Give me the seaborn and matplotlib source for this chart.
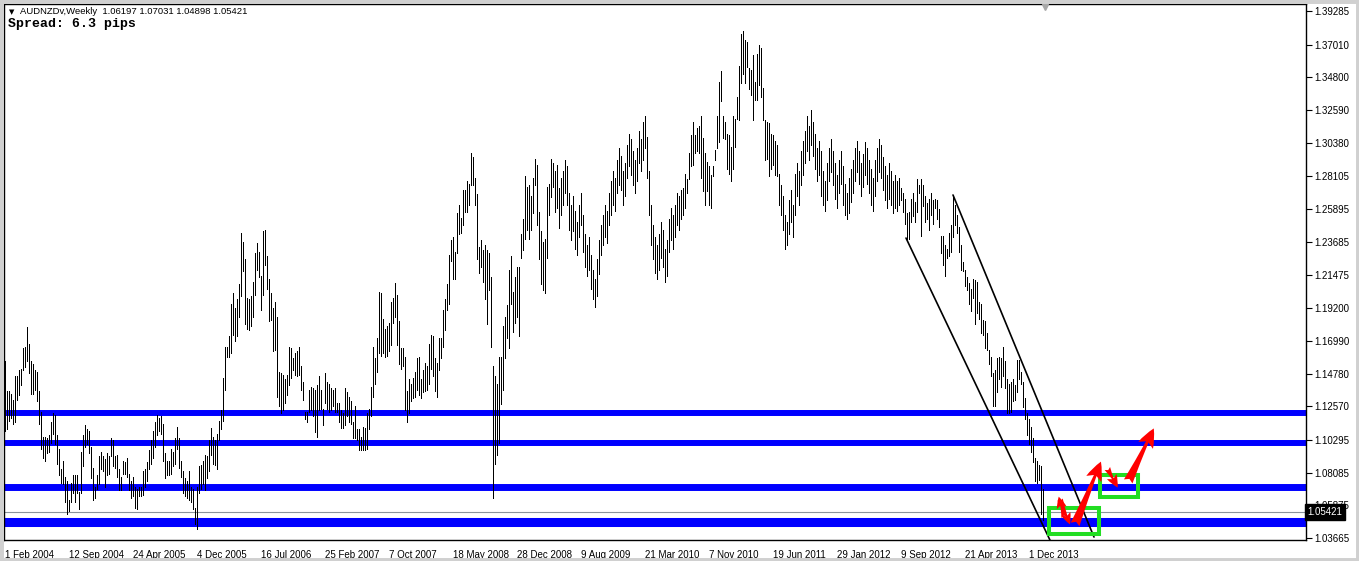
import numpy as np
import pandas as pd
import seaborn as sns
import matplotlib.pyplot as plt
from matplotlib.patches import Rectangle, FancyArrowPatch
import matplotlib.transforms as mtransforms

# weekly AUDNZD bars, Feb 2004 .. Jan 2014 (high / low per week)
bar_high = [
    1.156, 1.136, 1.136, 1.134, 1.130, 1.146, 1.146, 1.150, 1.151, 1.165,
    1.166, 1.179, 1.168, 1.156, 1.154, 1.150, 1.149, 1.136, 1.122, 1.105,
    1.105, 1.104, 1.106, 1.115, 1.121, 1.120, 1.106, 1.097, 1.083, 1.089,
    1.078, 1.075, 1.062, 1.074, 1.079, 1.079, 1.079, 1.068, 1.095, 1.106,
    1.113, 1.110, 1.109, 1.098, 1.084, 1.071, 1.079, 1.092, 1.095, 1.092,
    1.090, 1.094, 1.092, 1.104, 1.103, 1.092, 1.093, 1.083, 1.078, 1.089,
    1.088, 1.091, 1.080, 1.075, 1.078, 1.071, 1.070, 1.071, 1.071, 1.082,
    1.083, 1.088, 1.096, 1.103, 1.109, 1.115, 1.120, 1.118, 1.119, 1.114,
    1.094, 1.089, 1.089, 1.097, 1.095, 1.104, 1.112, 1.104, 1.089, 1.082,
    1.077, 1.075, 1.082, 1.071, 1.070, 1.057, 1.071, 1.085, 1.086, 1.089,
    1.093, 1.092, 1.103, 1.111, 1.105, 1.103, 1.107, 1.116, 1.123, 1.145,
    1.166, 1.166, 1.173, 1.195, 1.202, 1.192, 1.198, 1.208, 1.243, 1.237,
    1.225, 1.199, 1.198, 1.200, 1.210, 1.229, 1.236, 1.230, 1.214, 1.244,
    1.245, 1.227, 1.212, 1.202, 1.192, 1.196, 1.186, 1.149, 1.148, 1.147,
    1.144, 1.147, 1.166, 1.165, 1.158, 1.162, 1.163, 1.166, 1.153, 1.142,
    1.122, 1.122, 1.137, 1.139, 1.138, 1.137, 1.140, 1.146, 1.137, 1.124,
    1.148, 1.142, 1.141, 1.138, 1.137, 1.138, 1.128, 1.128, 1.123, 1.121,
    1.138, 1.135, 1.132, 1.129, 1.115, 1.126, 1.110, 1.110, 1.105, 1.112,
    1.111, 1.121, 1.124, 1.139, 1.166, 1.158, 1.172, 1.203, 1.202, 1.185,
    1.178, 1.180, 1.182, 1.196, 1.199, 1.209, 1.201, 1.183, 1.165, 1.165,
    1.159, 1.136, 1.144, 1.141, 1.145, 1.149, 1.158, 1.159, 1.144, 1.150,
    1.155, 1.153, 1.168, 1.174, 1.173, 1.158, 1.155, 1.172, 1.172, 1.191,
    1.198, 1.208, 1.228, 1.238, 1.240, 1.230, 1.256, 1.262, 1.253, 1.272,
    1.272, 1.278, 1.276, 1.297, 1.294, 1.280, 1.269, 1.233, 1.238, 1.231,
    1.235, 1.231, 1.229, 1.213, 1.153, 1.146, 1.141, 1.159, 1.159, 1.180,
    1.186, 1.194, 1.218, 1.227, 1.203, 1.213, 1.220, 1.220, 1.242, 1.252,
    1.281, 1.274, 1.275, 1.268, 1.280, 1.293, 1.289, 1.257, 1.244, 1.237,
    1.239, 1.274, 1.276, 1.293, 1.290, 1.285, 1.289, 1.273, 1.280, 1.285,
    1.292, 1.288, 1.270, 1.262, 1.268, 1.258, 1.250, 1.262, 1.270, 1.255,
    1.242, 1.235, 1.240, 1.228, 1.218, 1.212, 1.225, 1.238, 1.248, 1.255,
    1.262, 1.258, 1.270, 1.278, 1.285, 1.280, 1.292, 1.300, 1.295, 1.285,
    1.290, 1.302, 1.310, 1.306, 1.298, 1.292, 1.300, 1.312, 1.306, 1.318,
    1.322, 1.308, 1.285, 1.262, 1.248, 1.240, 1.235, 1.242, 1.250, 1.245,
    1.232, 1.238, 1.252, 1.260, 1.255, 1.262, 1.270, 1.268, 1.272, 1.273,
    1.283, 1.279, 1.297, 1.309, 1.318, 1.309, 1.314, 1.315, 1.322, 1.307,
    1.297, 1.291, 1.288, 1.282, 1.288, 1.299, 1.322, 1.345, 1.352, 1.322,
    1.318, 1.310, 1.309, 1.301, 1.322, 1.320, 1.335, 1.356, 1.377, 1.379,
    1.373, 1.372, 1.354, 1.353, 1.363, 1.345, 1.364, 1.370, 1.368, 1.341,
    1.319, 1.318, 1.317, 1.310, 1.309, 1.305, 1.302, 1.283, 1.275, 1.268,
    1.255, 1.250, 1.265, 1.272, 1.262, 1.283, 1.290, 1.285, 1.298, 1.305,
    1.312, 1.322, 1.315, 1.326, 1.318, 1.310, 1.300, 1.305, 1.298, 1.285,
    1.278, 1.290, 1.300, 1.306, 1.298, 1.290, 1.282, 1.292, 1.298, 1.288,
    1.276, 1.270, 1.280, 1.286, 1.292, 1.300, 1.305, 1.298, 1.290, 1.296,
    1.304, 1.300, 1.292, 1.286, 1.280, 1.292, 1.300, 1.306, 1.302, 1.294,
    1.288, 1.282, 1.290, 1.285, 1.278, 1.282, 1.278, 1.280, 1.273, 1.270,
    1.266, 1.256, 1.257, 1.266, 1.270, 1.264, 1.279, 1.275, 1.279, 1.275,
    1.268, 1.263, 1.266, 1.270, 1.265, 1.266, 1.265, 1.259, 1.241, 1.241,
    1.235, 1.232, 1.243, 1.248, 1.268, 1.262, 1.255, 1.247, 1.235, 1.223,
    1.218, 1.213, 1.209, 1.205, 1.212, 1.211, 1.210, 1.196, 1.195, 1.184,
    1.183, 1.175, 1.164, 1.159, 1.148, 1.150, 1.158, 1.159, 1.158, 1.166,
    1.156, 1.144, 1.141, 1.142, 1.144, 1.140, 1.157, 1.157, 1.149, 1.142,
    1.131, 1.121, 1.117, 1.112, 1.104, 1.091, 1.089, 1.086, 1.085, 1.070,
]
bar_low = [
    1.109, 1.110, 1.116, 1.118, 1.114, 1.115, 1.130, 1.133, 1.140, 1.150,
    1.152, 1.156, 1.148, 1.134, 1.134, 1.137, 1.129, 1.114, 1.097, 1.091,
    1.089, 1.094, 1.095, 1.101, 1.107, 1.100, 1.087, 1.079, 1.074, 1.073,
    1.061, 1.053, 1.055, 1.061, 1.067, 1.061, 1.067, 1.056, 1.067, 1.085,
    1.098, 1.100, 1.094, 1.077, 1.062, 1.064, 1.070, 1.073, 1.083, 1.082,
    1.071, 1.079, 1.080, 1.092, 1.085, 1.084, 1.078, 1.069, 1.069, 1.080,
    1.080, 1.078, 1.069, 1.064, 1.065, 1.057, 1.056, 1.065, 1.065, 1.066,
    1.071, 1.075, 1.083, 1.087, 1.091, 1.098, 1.106, 1.109, 1.107, 1.089,
    1.077, 1.079, 1.079, 1.080, 1.085, 1.087, 1.097, 1.084, 1.078, 1.067,
    1.065, 1.064, 1.062, 1.061, 1.056, 1.046, 1.043, 1.067, 1.070, 1.073,
    1.069, 1.077, 1.082, 1.093, 1.087, 1.086, 1.083, 1.103, 1.110, 1.116,
    1.137, 1.159, 1.159, 1.162, 1.174, 1.170, 1.173, 1.186, 1.200, 1.217,
    1.181, 1.178, 1.177, 1.180, 1.186, 1.201, 1.218, 1.213, 1.191, 1.201,
    1.221, 1.205, 1.183, 1.184, 1.163, 1.164, 1.132, 1.126, 1.121, 1.123,
    1.128, 1.133, 1.140, 1.145, 1.150, 1.147, 1.146, 1.147, 1.137, 1.130,
    1.117, 1.115, 1.122, 1.123, 1.119, 1.108, 1.105, 1.123, 1.124, 1.113,
    1.128, 1.124, 1.122, 1.123, 1.126, 1.122, 1.122, 1.115, 1.111, 1.111,
    1.113, 1.119, 1.115, 1.114, 1.104, 1.104, 1.103, 1.096, 1.096, 1.096,
    1.096, 1.097, 1.110, 1.119, 1.132, 1.141, 1.149, 1.162, 1.160, 1.162,
    1.159, 1.160, 1.163, 1.167, 1.182, 1.186, 1.167, 1.154, 1.151, 1.153,
    1.123, 1.115, 1.121, 1.129, 1.131, 1.132, 1.137, 1.133, 1.131, 1.135,
    1.136, 1.137, 1.141, 1.151, 1.146, 1.136, 1.132, 1.150, 1.158, 1.166,
    1.177, 1.191, 1.195, 1.224, 1.212, 1.212, 1.229, 1.242, 1.243, 1.248,
    1.257, 1.257, 1.262, 1.275, 1.275, 1.262, 1.225, 1.216, 1.220, 1.210,
    1.198, 1.181, 1.204, 1.166, 1.064, 1.087, 1.093, 1.101, 1.127, 1.137,
    1.158, 1.172, 1.165, 1.195, 1.176, 1.182, 1.186, 1.173, 1.226, 1.231,
    1.239, 1.245, 1.239, 1.245, 1.256, 1.275, 1.248, 1.225, 1.208, 1.204,
    1.202, 1.226, 1.255, 1.267, 1.274, 1.257, 1.260, 1.246, 1.255, 1.262,
    1.270, 1.262, 1.245, 1.238, 1.244, 1.232, 1.228, 1.240, 1.248, 1.230,
    1.220, 1.214, 1.218, 1.205, 1.198, 1.193, 1.200, 1.215, 1.228, 1.235,
    1.240, 1.236, 1.248, 1.255, 1.262, 1.258, 1.270, 1.275, 1.272, 1.262,
    1.268, 1.280, 1.288, 1.282, 1.275, 1.270, 1.278, 1.290, 1.285, 1.292,
    1.300, 1.280, 1.255, 1.235, 1.225, 1.216, 1.212, 1.218, 1.226, 1.220,
    1.210, 1.214, 1.230, 1.238, 1.232, 1.240, 1.248, 1.245, 1.252, 1.255,
    1.260, 1.270, 1.279, 1.288, 1.289, 1.297, 1.298, 1.297, 1.280, 1.271,
    1.262, 1.271, 1.262, 1.260, 1.281, 1.292, 1.300, 1.304, 1.332, 1.307,
    1.306, 1.286, 1.283, 1.278, 1.286, 1.301, 1.320, 1.319, 1.344, 1.350,
    1.344, 1.355, 1.340, 1.336, 1.319, 1.333, 1.333, 1.343, 1.335, 1.319,
    1.292, 1.293, 1.281, 1.286, 1.289, 1.282, 1.281, 1.262, 1.255, 1.245,
    1.232, 1.235, 1.242, 1.250, 1.240, 1.255, 1.268, 1.262, 1.275, 1.282,
    1.290, 1.298, 1.292, 1.302, 1.295, 1.286, 1.278, 1.282, 1.268, 1.262,
    1.258, 1.265, 1.278, 1.284, 1.275, 1.266, 1.260, 1.270, 1.276, 1.262,
    1.255, 1.252, 1.256, 1.264, 1.270, 1.278, 1.284, 1.276, 1.268, 1.274,
    1.282, 1.276, 1.270, 1.262, 1.258, 1.268, 1.278, 1.284, 1.280, 1.272,
    1.265, 1.260, 1.266, 1.262, 1.256, 1.260, 1.258, 1.262, 1.265, 1.257,
    1.249, 1.239, 1.239, 1.250, 1.254, 1.250, 1.257, 1.270, 1.241, 1.261,
    1.250, 1.252, 1.245, 1.255, 1.249, 1.260, 1.252, 1.247, 1.229, 1.221,
    1.214, 1.226, 1.227, 1.230, 1.240, 1.248, 1.243, 1.230, 1.218, 1.217,
    1.207, 1.204, 1.195, 1.190, 1.199, 1.181, 1.189, 1.185, 1.175, 1.174,
    1.165, 1.164, 1.154, 1.146, 1.126, 1.126, 1.135, 1.144, 1.139, 1.146,
    1.138, 1.121, 1.121, 1.122, 1.129, 1.130, 1.135, 1.144, 1.141, 1.125,
    1.117, 1.106, 1.100, 1.095, 1.088, 1.075, 1.074, 1.076, 1.053, 1.049,
]

date_labels = ["1 Feb 2004", "12 Sep 2004", "24 Apr 2005", "4 Dec 2005",
               "16 Jul 2006", "25 Feb 2007", "7 Oct 2007", "18 May 2008",
               "28 Dec 2008", "9 Aug 2009", "21 Mar 2010", "7 Nov 2010",
               "19 Jun 2011", "29 Jan 2012", "9 Sep 2012", "21 Apr 2013",
               "1 Dec 2013"]
price_ticks = [1.39285, 1.37010, 1.34800, 1.32590, 1.30380, 1.28105, 1.25895,
               1.23685, 1.21475, 1.19200, 1.16990, 1.14780, 1.12570, 1.10295,
               1.08085, 1.05875, 1.03665]

# drawn objects: support levels, channel, boxes, projected path
support_levels = [1.1211, 1.1009, 1.0708, 1.0478]
support_widths = [4.3, 4.3, 5.0, 6.5]
last_price = 1.05421
channel_lower = ([450.5, 522.5], [1.2394, 1.0352])
channel_upper = ([474.0, 544.5], [1.2685, 1.0373])
boxes = [(522.0, 1.0394, 547.0, 1.0569), (547.5, 1.0644, 566.5, 1.0792)]
arrows = [  # (bar_from, price_from, bar_to, price_to, size)
    (530.0, 1.0488, 526.5, 1.0664, 5.5),
    (527.0, 1.0644, 533.0, 1.0441, 5.5),
    (534.5, 1.0441, 548.5, 1.0900, 9),
    (550.5, 1.0853, 557.0, 1.0691, 6),
    (561.0, 1.0732, 575.0, 1.1124, 9),
]

sns.set_style("white")
plt.rcParams["font.family"] = ["Liberation Sans", "DejaVu Sans"]

W, H = 1359, 561
fig = plt.figure(figsize=(W / 100, H / 100), dpi=100)
fig.patch.set_facecolor("white")
ax = fig.add_axes([4 / W, 21 / H, 1302 / W, 536 / H])

# support levels under the bars
for lvl, lw in zip(support_levels, support_widths):
    ax.axhline(lvl, color="#0000ff", lw=lw, zorder=1)
ax.axhline(last_price, color="#8a939c", lw=0.8, zorder=1)

bars = pd.DataFrame({"bar": np.arange(len(bar_high)), "high": bar_high, "low": bar_low})
long = bars.melt(id_vars="bar", value_vars=["high", "low"], value_name="price")
sns.lineplot(data=long, x="bar", y="price", units="bar", estimator=None,
             color="black", lw=0.72, antialiased=False, solid_capstyle="butt",
             legend=False, ax=ax, zorder=2)

# channel
for xs, ys in (channel_lower, channel_upper):
    ax.plot(xs, ys, color="black", lw=1.2, zorder=3)

for x0, y0, x1, y1 in boxes:
    ax.add_patch(Rectangle((x0, y0), x1 - x0, y1 - y0, fill=False,
                           ec="#22dd22", lw=2.9, zorder=4))

for xa, ya, xb, yb, s in arrows:
    ax.add_patch(FancyArrowPatch((xa, ya), (xb, yb),
                                 arrowstyle="fancy,head_length=1.5,head_width=1.3,tail_width=0.75",
                                 mutation_scale=s, color="#ff0000", lw=0, zorder=5))

ax.set_xlim(-0.5, 650.5)
ax.set_ylim(1.0353, 1.39758)
ax.set_xlabel("")
ax.set_ylabel("")

ax.set_xticks([32 * i for i in range(len(date_labels))])
ax.set_xticklabels(date_labels)
for lbl in ax.get_xticklabels():
    lbl.set_horizontalalignment("left")
ax.yaxis.tick_right()
ax.set_yticks(price_ticks)
ax.set_yticklabels([f"{p:.5f}" for p in price_ticks])
ax.tick_params(axis="both", direction="out", length=4, width=0.8, colors="black",
               labelsize=7, pad=2)
ax.tick_params(axis="x", pad=3)
for sp in ax.spines.values():
    sp.set_visible(True)
    sp.set_color("black")
    sp.set_linewidth(1.0)

# current price tag on the price scale
trans = mtransforms.blended_transform_factory(ax.transAxes, ax.transData)
ax.text(1.0012, last_price, "1.05421", transform=trans, fontsize=7, color="white",
        va="center", ha="left", zorder=10, clip_on=False,
        bbox=dict(boxstyle="square,pad=0.3", fc="black", ec="black"))

# chart shift marker
ax.plot([520], [1.3958], marker="v", ms=5, color="#a8a8a8", clip_on=False, zorder=6)

fig.text(9 / W, 1 - 12 / H, "\u25bc", fontsize=5, va="center", ha="left",
         family="DejaVu Sans", color="black")
fig.text(20 / W, 1 - 12 / H, "AUDNZDv,Weekly  1.06197 1.07031 1.04898 1.05421",
         fontsize=6.8, va="center", ha="left", color="black")
fig.text(8 / W, 1 - 24.5 / H, "Spread: 6.3 pips", fontsize=9.5, weight="bold",
         family="Liberation Mono", va="center", ha="left", color="black")

# window border
fig.patches.append(Rectangle((0, 0), 1, 1, transform=fig.transFigure, fill=False,
                             ec="#d0d0d0", lw=5, zorder=0))

fig.savefig("out.png", dpi=100, facecolor="white")
